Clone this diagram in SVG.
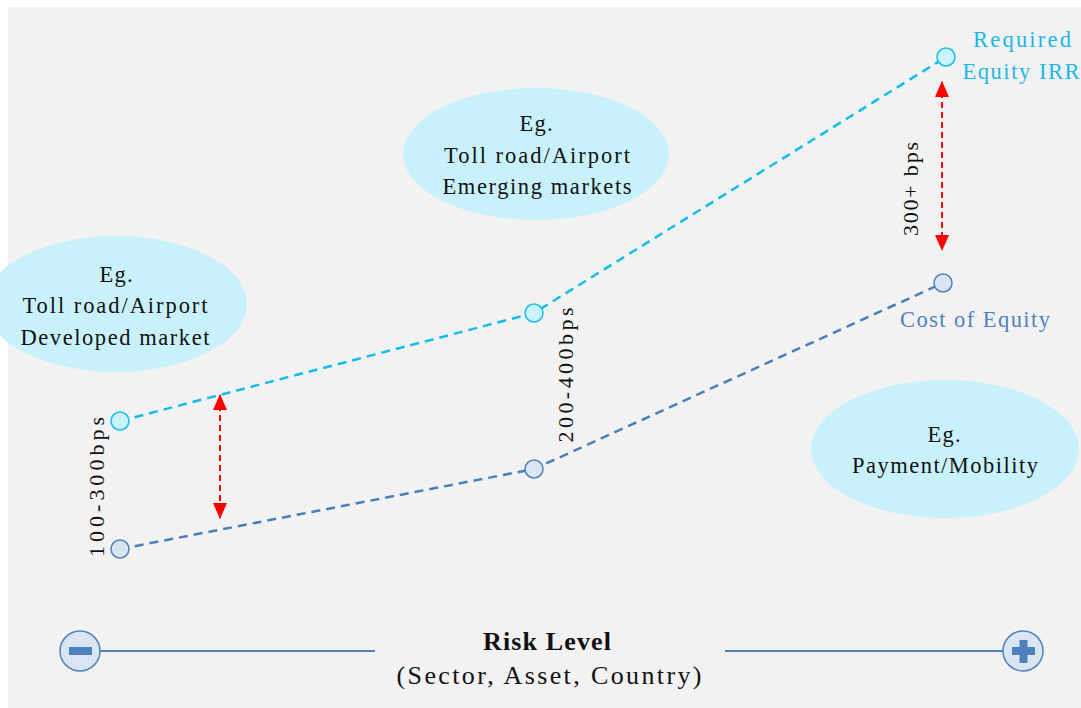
<svg xmlns="http://www.w3.org/2000/svg" width="1081" height="708" viewBox="0 0 1081 708">
<defs>
<style>
.t{font-family:"Liberation Serif","DejaVu Serif",serif;fill:#111;text-anchor:middle}
.eg{font-size:22.5px}
.ell{fill:#c9f1fc}
.up{fill:none;stroke:#12bdec;stroke-width:2.5;stroke-dasharray:9 6}
.lo{fill:none;stroke:#4a7ebb;stroke-width:2.5;stroke-dasharray:9 6}
.cu{fill:#c9f3fd;stroke:#17bdec;stroke-width:1.5}
.cl{fill:#dae5f3;stroke:#4f81bd;stroke-width:1.5}
.red{stroke:#ff0000;stroke-width:2;stroke-dasharray:6 4;fill:none}
.axis{stroke:#4f81bd;stroke-width:2}
</style>
<marker id="ah" viewBox="0 0 16 14" refX="15" refY="7" markerWidth="16" markerHeight="14" markerUnits="userSpaceOnUse" orient="auto-start-reverse">
<path d="M0,0 L16,7 L0,14 z" fill="#ff0000"/>
</marker>
</defs>
<rect x="8" y="7" width="1073" height="701" fill="#f2f2f2"/>

<g id="ellipse-developed">
<ellipse class="ell" cx="116" cy="304" rx="131" ry="68"/>
<text class="t eg" x="116" y="282" textLength="33" lengthAdjust="spacing">Eg.</text>
<text class="t eg" x="115" y="313" textLength="185" lengthAdjust="spacing">Toll road/Airport</text>
<text class="t eg" x="115" y="345" textLength="189" lengthAdjust="spacing">Developed market</text>
</g>
<g id="ellipse-emerging">
<ellipse class="ell" cx="536" cy="154" rx="133" ry="66"/>
<text class="t eg" x="536" y="131" textLength="33" lengthAdjust="spacing">Eg.</text>
<text class="t eg" x="537" y="163" textLength="186" lengthAdjust="spacing">Toll road/Airport</text>
<text class="t eg" x="537" y="194" textLength="189" lengthAdjust="spacing">Emerging markets</text>
</g>
<g id="ellipse-payment">
<ellipse class="ell" cx="945" cy="449" rx="134" ry="69"/>
<text class="t eg" x="944" y="442" textLength="33" lengthAdjust="spacing">Eg.</text>
<text class="t eg" x="945" y="473" textLength="186" lengthAdjust="spacing">Payment/Mobility</text>
</g>

<g id="connectors">
<polyline class="up" points="120,421 534,313 946,57"/>
<polyline class="lo" points="120,549 534,469 943,283"/>
<line class="red" x1="220" y1="395" x2="220" y2="518" marker-start="url(#ah)" marker-end="url(#ah)"/>
<line class="red" x1="942" y1="82" x2="942" y2="250" marker-start="url(#ah)" marker-end="url(#ah)"/>
<line class="axis" x1="100" y1="651" x2="375" y2="651"/>
<line class="axis" x1="725" y1="651" x2="1003" y2="651"/>
</g>

<g id="points-upper">
<circle class="cu" cx="120" cy="421" r="9"/>
<circle class="cu" cx="534" cy="313" r="9"/>
<circle class="cu" cx="946" cy="57" r="9"/>
</g>
<g id="points-lower">
<circle class="cl" cx="120" cy="549" r="9"/>
<circle class="cl" cx="534" cy="469" r="9"/>
<circle class="cl" cx="943" cy="283" r="9"/>
</g>

<g id="labels">
<text class="t" font-size="22" transform="translate(97,487) rotate(-90)" dy="7" textLength="140" lengthAdjust="spacing">100-300bps</text>
<text class="t" font-size="22" transform="translate(566,375) rotate(-90)" dy="7" textLength="135" lengthAdjust="spacing">200-400bps</text>
<text class="t" font-size="22" transform="translate(911,189) rotate(-90)" dy="7" textLength="94" lengthAdjust="spacing">300+ bps</text>
<text class="t" font-size="22.5" x="1022" y="47" style="fill:#1ab8e8" textLength="98" lengthAdjust="spacing">Required</text>
<text class="t" font-size="22.5" x="1021" y="79" style="fill:#1ab8e8" textLength="117" lengthAdjust="spacing">Equity IRR</text>
<text class="t" font-size="22.5" x="975" y="327" style="fill:#4f81bd" textLength="150" lengthAdjust="spacing">Cost of Equity</text>
</g>

<g id="minus">
<circle class="cl" cx="80" cy="651" r="20"/>
<rect x="69" y="647" width="23" height="8" fill="#4f81bd"/>
</g>
<g id="plus">
<circle class="cl" cx="1023" cy="651" r="20"/>
<rect x="1012" y="647" width="23" height="8" fill="#4f81bd"/>
<rect x="1019.5" y="640" width="8" height="23" fill="#4f81bd"/>
</g>
<g id="risk-level">
<text class="t" x="547" y="650" font-size="26" font-weight="bold" textLength="128" lengthAdjust="spacing">Risk Level</text>
<text class="t" x="549" y="684" font-size="26" textLength="305" lengthAdjust="spacing">(Sector, Asset, Country)</text>
</g>
</svg>
